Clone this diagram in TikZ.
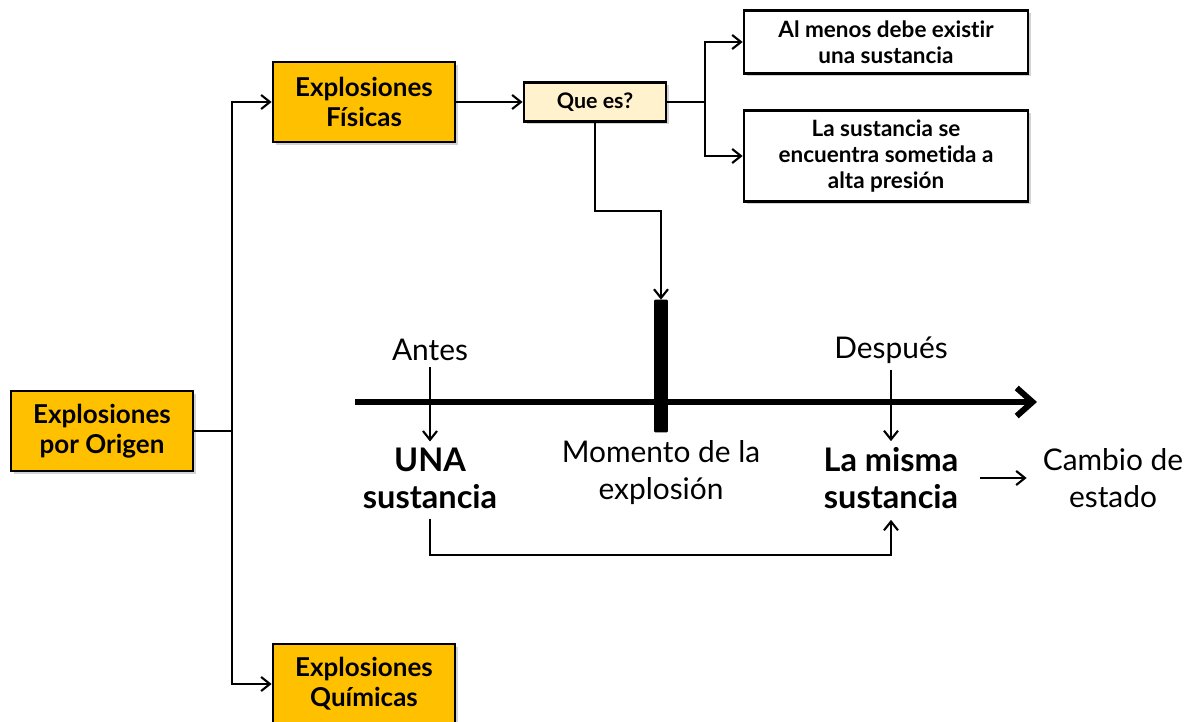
\documentclass[tikz,border=0pt]{standalone}
\usepackage{fontspec}
\setmainfont{Lato}[Ligatures=NoCommon]
\usetikzlibrary{arrows.meta}
\usetikzlibrary{shadows}

\definecolor{boxorange}{HTML}{FFC000}
\definecolor{boxcream}{HTML}{FFF2CC}

\begin{document}
\begin{tikzpicture} [x=0.02cm, y=-0.02cm,
  >={Straight Barb[length=5pt,width=8pt]},
  conn/.style={black, line width=1.2pt},
  tipo/.style={draw, line width=1.6pt, fill=boxorange, minimum width=3.64cm, minimum height=1.6cm,
    align=center, font=\fontsize{14.8}{17}\selectfont\bfseries,
    drop shadow={shadow xshift=1.5pt, shadow yshift=-1.5pt, opacity=.35}},
  nota/.style={draw, line width=1.6pt, fill=white, minimum width=5.68cm, align=center,
    font=\fontsize{12.8}{15}\selectfont\bfseries,
    drop shadow={shadow xshift=1.5pt, shadow yshift=-1.5pt, opacity=.35}},
  grande/.style={align=center, font=\fontsize{17}{21}\selectfont},
  negrita/.style={align=center, font=\fontsize{18.5}{21}\selectfont\bfseries}]
\useasboundingbox (0,0) rectangle (1193,722);

% cajas de la izquierda
\node[tipo] (origen) at (102,431) {Explosiones\\por Origen};
\node[tipo] (fisicas) at (364,102) {Explosiones\\Físicas};
\node[tipo] (quimicas) at (364,684) {Explosiones\\Químicas};
\coordinate (tronco) at (232,431);
\draw[conn] (origen.east) -- (tronco);
\draw[conn, ->] (tronco) |- (fisicas.west);
\draw[conn, ->] (tronco) |- (quimicas.west);

% que es?
\node[nota, fill=boxcream, minimum width=2.84cm, minimum height=0.78cm,
  font=\fontsize{12.2}{15}\selectfont\bfseries] (quees) at (595,102) {Que es?};
\draw[conn, ->] (fisicas.east) -- (quees.west);
\node[nota, minimum height=1.26cm] (menos) at (886,42) {Al menos debe existir\\una sustancia};
\node[nota, minimum height=1.82cm] (presion) at (886,156) {La sustancia se\\encuentra sometida a\\alta presión};
\coordinate (rama) at (705,102);
\draw[conn] (quees.east) -- (rama);
\foreach \destino in {menos, presion} {
 \draw[conn, ->] (rama) |- (\destino.west);
}

% linea del tiempo
\coordinate (inicio) at (355,402);
\coordinate (fin) at (1037,402);
\draw[black, line width=3.4pt, -{Straight Barb[length=9pt,width=16pt,line width=3.4pt]}] (inicio) -- (fin);
\node[draw, fill=black, rounded corners=0.5pt, minimum width=0.26cm, minimum height=2.64cm, inner sep=0] (barra) at (661,366) {};
\draw[conn, ->] (quees.south) |- (661,211) -- (barra.north);

\node[grande] (antes) at (430,350) {Antes};
\node[grande] (despues) at (891,350) {Después};
\node[negrita] (una) at (430,478) {UNA\\sustancia};
\node[negrita] (misma) at (891,478) {La misma\\sustancia};
\node[grande] (momento) at (661,473) {Momento de la\\explosión};
\node[grande] (cambio) at (1113,478) {Cambio de\\estado};

\draw[conn, ->] (antes.south) -- (una.north);
\draw[conn, ->] (despues.south) -- (misma.north);
\draw[conn, ->] ([xshift=0.3cm]misma.east) -- ([xshift=-0.2cm]cambio.west);
\draw[conn, ->] (una.south) ++(0,4) |- (660,555) -| ([yshift=-0.1cm]misma.south);
\end{tikzpicture}
\end{document}
